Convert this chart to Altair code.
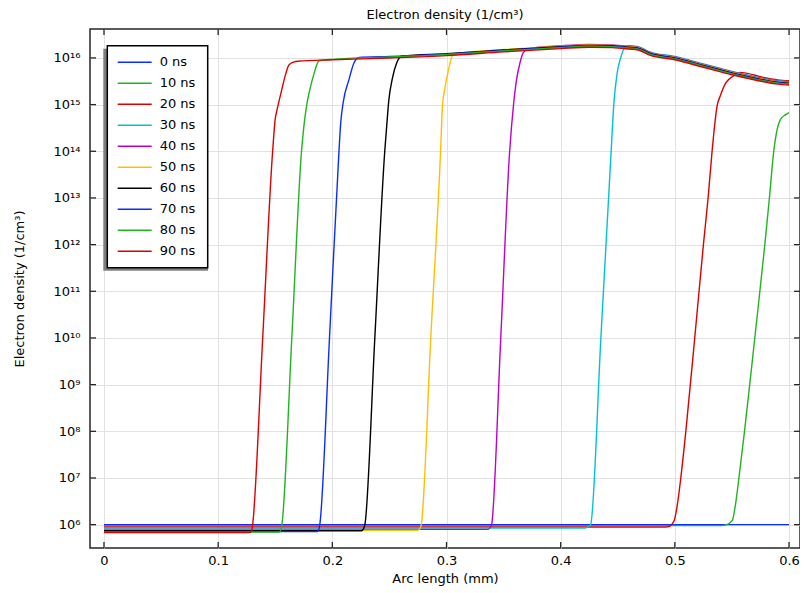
import altair as alt
import pandas as pd

# ---------------- data (x in mm, values are log10 of electron density in 1/cm^3) -------------
series_labels = ["0 ns", "10 ns", "20 ns", "30 ns", "40 ns", "50 ns", "60 ns", "70 ns", "80 ns", "90 ns"]
series_colors = ["#0a2dff", "#1fb51f", "#dd0000", "#00c4cc", "#c000c4", "#ffbf00", "#000000",
                 "#0a2dff", "#1fb51f", "#dd0000"]

x_00 = [0.0, 0.6]
e_00 = [6.0, 6.0]

x_10 = [0.0, 0.541, 0.5445, 0.5503, 0.5532, 0.5561, 0.561, 0.570, 0.5788, 0.5828, 0.5866, 0.5895,
        0.5924, 0.5968, 0.6]
e_10 = [5.98, 5.98, 5.99, 6.09, 6.45, 7.0, 8.0, 10.0, 12.0, 13.0, 14.0, 14.46, 14.68, 14.78, 14.83]

x_20 = [0.0, 0.492, 0.4948, 0.4994, 0.5023, 0.5052, 0.5096, 0.5174, 0.525, 0.5291, 0.5326, 0.5372,
        0.5395, 0.5445, 0.5517, 0.557, 0.578, 0.59, 0.6]
e_20 = [5.95, 5.95, 5.96, 6.09, 6.45, 7.0, 8.0, 10.0, 12.0, 13.0, 14.0, 15.0, 15.17, 15.46, 15.62,
        15.69, 15.58, 15.53, 15.51]

x_30 = [0.0, 0.4215, 0.4238, 0.4262, 0.4352, 0.4442, 0.4465, 0.4494, 0.4525, 0.456, 0.46, 0.468,
        0.478, 0.5, 0.525, 0.55, 0.578, 0.59, 0.6]
e_30 = [5.93, 5.93, 5.95, 6.0, 10.0, 14.0, 15.0, 15.67, 16.0, 16.22, 16.26, 16.24, 16.13, 16.03,
        15.87, 15.71, 15.56, 15.51, 15.49]

x_40 = [0.0, 0.3365, 0.3385, 0.3395, 0.3475, 0.3553, 0.3587, 0.3613, 0.3643, 0.3671, 0.372, 0.4,
        0.425, 0.445, 0.46, 0.468, 0.478, 0.5, 0.525, 0.55, 0.578, 0.59, 0.6]
e_40 = [5.90, 5.90, 5.95, 6.0, 10.0, 14.0, 15.0, 15.53, 15.89, 16.11, 16.2, 16.26, 16.29, 16.28,
        16.25, 16.23, 16.12, 16.02, 15.86, 15.70, 15.55, 15.50, 15.48]

x_50 = [0.0, 0.275, 0.277, 0.2779, 0.2862, 0.2948, 0.2965, 0.2983, 0.3017, 0.3061, 0.35, 0.4,
        0.425, 0.445, 0.46, 0.468, 0.478, 0.5, 0.525, 0.55, 0.578, 0.59, 0.6]
e_50 = [5.88, 5.88, 5.93, 6.0, 10.0, 14.0, 15.0, 15.31, 15.74, 16.09, 16.18, 16.25, 16.28, 16.27,
        16.24, 16.22, 16.11, 16.01, 15.85, 15.69, 15.54, 15.49, 15.47]

x_60 = [0.0, 0.2255, 0.2275, 0.2285, 0.2372, 0.2459, 0.2478, 0.2495, 0.2525, 0.2565, 0.261, 0.3,
        0.35, 0.4, 0.425, 0.445, 0.46, 0.468, 0.478, 0.5, 0.525, 0.55, 0.578, 0.59, 0.6]
e_60 = [5.87, 5.87, 5.92, 6.0, 10.0, 14.0, 14.6, 15.1, 15.55, 15.9, 16.04, 16.09, 16.17, 16.24,
        16.27, 16.26, 16.23, 16.21, 16.10, 16.0, 15.84, 15.68, 15.53, 15.48, 15.46]

x_70 = [0.0, 0.1865, 0.1882, 0.189, 0.1975, 0.2058, 0.2073, 0.2096, 0.2145, 0.2189, 0.2233, 0.25,
        0.3, 0.35, 0.4, 0.425, 0.445, 0.46, 0.468, 0.478, 0.5, 0.525, 0.55, 0.578, 0.59, 0.6]
e_70 = [5.85, 5.85, 5.9, 6.0, 10.0, 14.0, 14.6, 15.06, 15.53, 15.89, 16.01, 16.03, 16.08, 16.16,
        16.23, 16.26, 16.25, 16.22, 16.20, 16.09, 15.99, 15.83, 15.67, 15.52, 15.47, 15.45]

x_80 = [0.0, 0.1535, 0.155, 0.1558, 0.1645, 0.173, 0.1776, 0.1802, 0.184, 0.1884, 0.2, 0.25, 0.3,
        0.35, 0.4, 0.425, 0.445, 0.46, 0.468, 0.478, 0.5, 0.525, 0.55, 0.578, 0.59, 0.6]
e_80 = [5.84, 5.84, 5.9, 6.0, 10.0, 14.0, 15.0, 15.31, 15.67, 15.94, 15.97, 16.02, 16.07, 16.15,
        16.22, 16.25, 16.24, 16.21, 16.19, 16.08, 15.98, 15.82, 15.66, 15.51, 15.46, 15.44]

x_90 = [0.0, 0.127, 0.1295, 0.1302, 0.139, 0.1477, 0.150, 0.1515, 0.1555, 0.1593, 0.162, 0.166,
        0.17, 0.2, 0.25, 0.3, 0.35, 0.4, 0.425, 0.445, 0.46, 0.468, 0.478, 0.5, 0.525, 0.55, 0.578,
        0.59, 0.6]
e_90 = [5.83, 5.83, 5.88, 6.0, 10.0, 14.0, 14.7, 14.88, 15.3, 15.67, 15.85, 15.91, 15.93, 15.96,
        16.0, 16.05, 16.13, 16.2, 16.23, 16.22, 16.19, 16.17, 16.06, 15.96, 15.8, 15.64, 15.49,
        15.44, 15.42]

x_ticks = [0.0, 0.1, 0.2, 0.3, 0.4, 0.5, 0.6]
y_ticks = [1e6, 1e7, 1e8, 1e9, 1e10, 1e11, 1e12, 1e13, 1e14, 1e15, 1e16]
y_tick_labels = ["10⁶", "10⁷", "10⁸", "10⁹", "10¹⁰", "10¹¹", "10¹²", "10¹³", "10¹⁴", "10¹⁵", "10¹⁶"]

chart_title = "Electron density (1/cm³)"
x_title = "Arc length (mm)"
y_title = "Electron density (1/cm³)"

# ---------------- build table ----------------
series_x = [x_00, x_10, x_20, x_30, x_40, x_50, x_60, x_70, x_80, x_90]
series_e = [e_00, e_10, e_20, e_30, e_40, e_50, e_60, e_70, e_80, e_90]
rows = []
for k, (lab, xs_, es_) in enumerate(zip(series_labels, series_x, series_e)):
    for i, (xv, ev) in enumerate(zip(xs_, es_)):
        rows.append({"series": lab, "k": k, "i": i, "x": xv, "n": 10 ** ev})
df = pd.DataFrame(rows)

W, H = 710, 519
FONT = "DejaVu Sans"
FRAME = "#262626"
TL = 6  # inward tick length

xs = alt.Scale(domain=[-0.01226, 0.6096], nice=False, zero=False)
ys = alt.Scale(type="log", domain=[10 ** 5.5, 10 ** 16.62], nice=False)

x_axis = alt.Axis(values=x_ticks, format="~g", title=x_title, grid=True, gridColor="#e2e2e2",
                  domain=False, ticks=False, tickSize=0, labelPadding=6, labelFlush=False,
                  labelFontSize=13, labelColor="black", titleFontSize=13, titleFontWeight="normal",
                  titleColor="black", titleY=30, titleBaseline="middle")
label_expr = "[" + ",".join("'" + s + "'" for s in y_tick_labels) + "][round(log(datum.value)/LN10)-6]"
y_axis = alt.Axis(values=y_ticks, labelExpr=label_expr, title=y_title, grid=True, gridColor="#e2e2e2",
                  domain=False, ticks=False, tickSize=0, labelPadding=10, labelFontSize=13,
                  labelColor="black", labelOverlap=False, titleFontSize=13, titleFontWeight="normal",
                  titleColor="black", titleX=-71, titleY=H / 2, titleAngle=270,
                  titleBaseline="middle", titleAlign="center")

one = pd.DataFrame({"a": [0]})
shadow = alt.Chart(one).mark_rect(color="#7f7f7f").encode(
    x=alt.value(13.3), x2=alt.value(118), y=alt.value(19.7), y2=alt.value(241.7))
box = alt.Chart(one).mark_rect(fill="white", stroke="black", strokeWidth=1.5).encode(
    x=alt.value(17.3), x2=alt.value(117.7), y=alt.value(16.7), y2=alt.value(238.7))

lines = alt.Chart(df).mark_line(strokeWidth=1.4, interpolate="monotone").encode(
    x=alt.X("x:Q", scale=xs, axis=x_axis),
    y=alt.Y("n:Q", scale=ys, axis=y_axis),
    color=alt.Color("series:N", sort=series_labels,
                    scale=alt.Scale(domain=series_labels, range=series_colors),
                    legend=alt.Legend(title=None, orient="none", legendX=26.7, legendY=22.8,
                                      symbolType="stroke", symbolSize=1156, symbolStrokeWidth=1.5,
                                      clipHeight=21, rowPadding=0, padding=0, labelOffset=7,
                                      labelFontSize=13, labelColor="black", labelFont=FONT)),
    detail="series:N",
    order=alt.Order("i:Q"),
)

xt = pd.DataFrame({"x": x_ticks})
yt = pd.DataFrame({"n": y_ticks})
tick_bottom = alt.Chart(xt).mark_rule(color=FRAME, strokeWidth=1.3).encode(
    x=alt.X("x:Q", scale=xs, axis=x_axis), y=alt.value(H), y2=alt.value(H - TL))
tick_top = alt.Chart(xt).mark_rule(color=FRAME, strokeWidth=1.3).encode(
    x=alt.X("x:Q", scale=xs, axis=x_axis), y=alt.value(0), y2=alt.value(TL))
tick_left = alt.Chart(yt).mark_rule(color=FRAME, strokeWidth=1.3).encode(
    y=alt.Y("n:Q", scale=ys, axis=y_axis), x=alt.value(0), x2=alt.value(TL))
tick_right = alt.Chart(yt).mark_rule(color=FRAME, strokeWidth=1.3).encode(
    y=alt.Y("n:Q", scale=ys, axis=y_axis), x=alt.value(W - TL), x2=alt.value(W))

chart = alt.layer(shadow, box, lines, tick_bottom, tick_top, tick_left, tick_right).properties(
    width=W, height=H,
    title=alt.TitleParams(text=chart_title, fontSize=13, fontWeight="normal", anchor="middle",
                          frame="group", offset=-4, baseline="alphabetic", color="black",
                          font=FONT),
    padding={"left": 82, "top": 21, "right": 0, "bottom": 40},
    autosize=alt.AutoSizeParams(type="none"),
).configure(font=FONT).configure_view(stroke=FRAME, strokeWidth=1.5)

chart.save("out.html", embed_options={"renderer": "svg", "actions": False})
